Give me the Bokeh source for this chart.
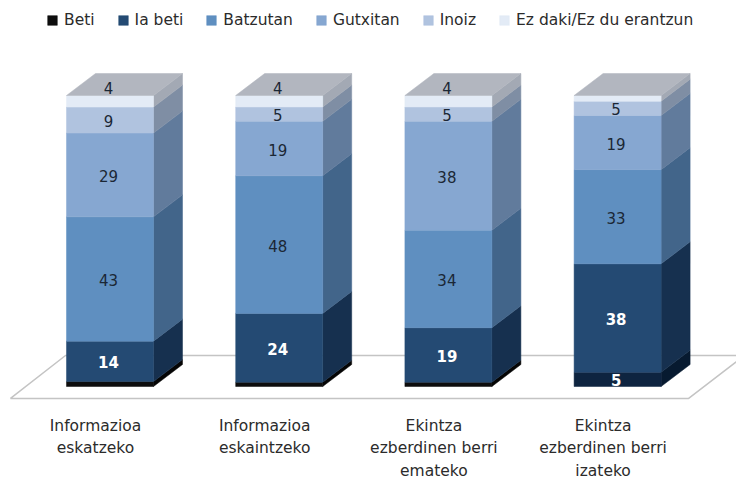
from bokeh.plotting import figure
from bokeh.models import Legend, LegendItem
from bokeh.core.properties import value
from bokeh.embed import file_html
from bokeh.resources import INLINE

categories = ["Informazioa\neskatzeko", "Informazioa\neskaintzeko",
              "Ekintza\nezberdinen berri\nemateko", "Ekintza\nezberdinen berri\nizateko"]
series_names = ["Beti", "Ia beti", "Batzutan", "Gutxitan", "Inoiz", "Ez daki/Ez du erantzun"]
beti = [1.7, 1.5, 1.5, 5]
ia_beti = [14, 24, 19, 38]
batzutan = [43, 48, 34, 33]
gutxitan = [29, 19, 38, 19]
inoiz = [9, 5, 5, 5]
ez_daki = [4, 4, 4, 2]
series = [beti, ia_beti, batzutan, gutxitan, inoiz, ez_daki]

front_colors = ["#0d0d0d", "#244a73", "#5f8fc0", "#86a7d1", "#b0c3df", "#e3ebf6"]
side_colors = ["#050505", "#16304f", "#42658a", "#617b9c", "#7f8ea4", "#a3a9b4"]
top_color = "#b2b6bf"
floor_color = "#c4c4c4"
text_dark = "#1b2735"
font = value("DejaVu Sans")

W, H = 736, 479
PX_X = 169.2   # px per category
PX_Y = 2.91    # px per percent
X0 = 109.5     # canvas px of category 0
Y0 = 386       # canvas px of 0 %
BAR_W = 87 / PX_X
DX = 29 / PX_X
DY = 22 / PX_Y

p = figure(width=W, height=H, toolbar_location=None, output_backend="svg",
           x_range=(-X0 / PX_X, (W - X0) / PX_X),
           y_range=(-(H - Y0) / PX_Y, Y0 / PX_Y),
           x_axis_location=None, y_axis_location=None,
           min_border=0, outline_line_color=None, background_fill_color="white")
p.grid.visible = False

# floor
fl, fr = -0.588, 3.42
fy0, fy1 = -4.1, 10.65
p.patch([fl, fr, fr + 0.33, fl + 0.325], [fy0, fy0, fy1, fy1],
        fill_color="white", line_color=floor_color, line_width=1.5)

# stacks as shares of the bar height
n = len(categories)
renderers = {}
labels = []
for i in range(n):
    total = sum(s[i] for s in series)
    bottom = 0.0
    for k, s in enumerate(series):
        share = s[i] / total * 100
        top = bottom + share
        xl, xr = i - BAR_W / 2, i + BAR_W / 2
        front = front_colors[k]
        side = side_colors[k]
        if k == 0 and s[i] >= 3:
            front, side = "#0e2440", "#071a30"
        p.patch([xr, xr + DX, xr + DX, xr], [bottom, bottom + DY, top + DY, top],
                fill_color=side, line_color=side, line_width=0.5)
        r = p.vbar(x=[i], bottom=[bottom], top=[top], width=BAR_W,
                   fill_color=front, line_color=front, line_width=0.5)
        renderers.setdefault(k, r)
        if s[i] >= 3:
            labels.append((i, (bottom + top) / 2, s[i], k))
        bottom = top
    p.patch([xl, xl + DX, xr + DX, xr], [100, 100 + DY, 100 + DY, 100],
            fill_color=top_color, line_color=top_color, line_width=0.5)

for i, y, v, k in labels:
    up = 14 if k == 5 else 0
    light = k <= 1
    p.text(x=[i], y=[y], text=[str(v)],
           text_align="center", text_baseline="middle",
           x_offset=-1.5, y_offset=1 - up,
           text_font=font, text_font_size="15px",
           text_font_style="bold" if light else "normal",
           text_color="white" if light else text_dark)

# category labels
p.text(x=list(range(n)), y=[-(416 - 386) / PX_Y] * n, text=categories,
       text_align="center", text_baseline="top", x_offset=-14.5,
       text_line_height=1.27,
       text_font=font, text_font_size="15.5px", text_color="#2b2b2b")

# legend
legend = Legend(items=[LegendItem(label=series_names[k], renderers=[renderers[k]]) for k in range(6)],
                orientation="horizontal", location=(46, H - 29), padding=0, margin=0,
                spacing=22, label_standoff=6, glyph_width=12, glyph_height=12,
                background_fill_alpha=0, border_line_color=None,
                label_text_font="DejaVu Sans", label_text_font_size="15.5px",
                label_text_color="#2b2b2b")
p.add_layout(legend)

open("out.html", "w").write(file_html(p, INLINE))
